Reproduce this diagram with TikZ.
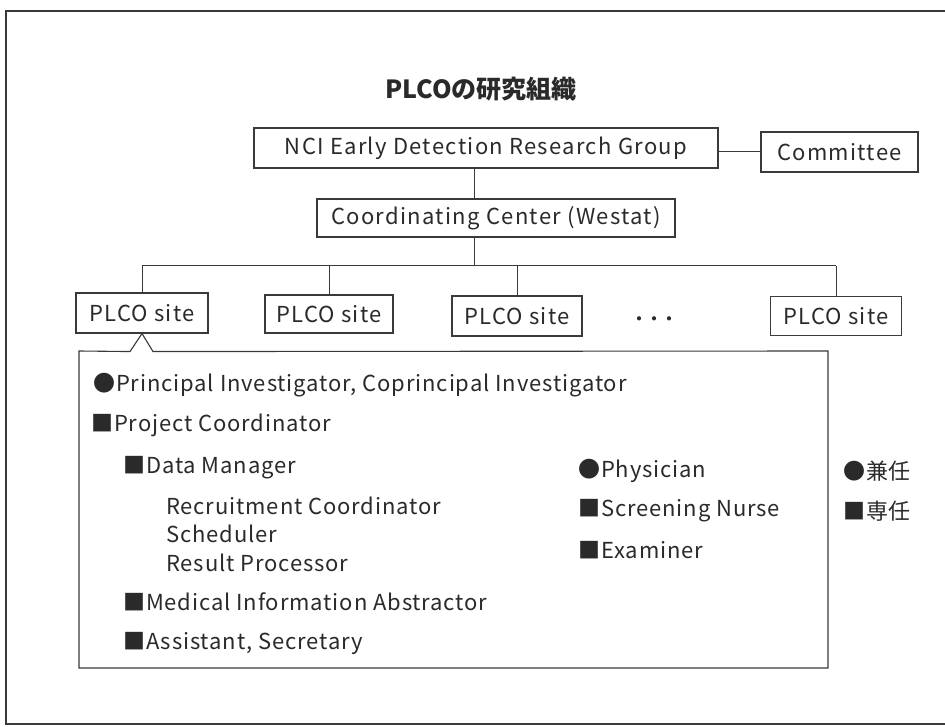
\documentclass[tikz,border=0pt]{standalone}
\usepackage{fontspec}
\setmainfont{Noto Sans CJK JP}
\newfontfamily\boxfont[LetterSpace=6]{Noto Sans CJK JP}
\newfontfamily\itemfont[LetterSpace=4]{Noto Sans CJK JP}
\usetikzlibrary{calc}
\definecolor{txt}{HTML}{2A2A2A}
\definecolor{linec}{HTML}{3A3A3A}
\begin{document}
\begin{tikzpicture}[x=1pt,y=-1pt,
  box/.style={draw=linec, line width=1.1pt, inner sep=0pt, font=\boxfont\fontsize{22}{26}\selectfont, text=txt},
  conn/.style={draw=linec, line width=1pt},
  item/.style={anchor=west, inner sep=0pt, font=\itemfont\fontsize{22}{26}\selectfont, text=txt},
  frame/.style={draw=linec, line width=2pt}]
\useasboundingbox (0,0) rectangle (945,727);
\fill[white] (0,0) rectangle (945,727);
% outer frame (right side beyond the picture)
\draw[frame] (945,11) -- (6,11) -- (6,724) -- (945,724);
% title
\node[inner sep=0pt, font=\fontsize{25}{29}\selectfont\bfseries, text=txt] (title) at (481,89) {PLCOの研究組織};
% boxes
\node[box, minimum width=464, minimum height=40] (nci) at (486,148) {NCI Early Detection Research Group};
\node[box, minimum width=157, minimum height=40] (com) at (839.5,152) {Committee};
\node[box, minimum width=358, minimum height=38] (cc) at (496,218) {Coordinating Center (Westat)};
\node[box, minimum width=132, minimum height=40] (s1) at (142,313) {PLCO site};
\node[box, minimum width=128, minimum height=38] (s2) at (329,314) {PLCO site};
\node[box, minimum width=130, minimum height=40] (s3) at (517,316) {PLCO site};
\node[inner sep=0pt, font=\fontsize{15}{18}\selectfont\bfseries, text=txt] (dots) at (654,321) {・・・};
\node[box, minimum width=131, minimum height=39] (s5) at (836,316) {PLCO site};
% connectors
\coordinate (b1) at (474,0);
\coordinate (bus) at (0,266);
\draw[conn] (com.west) -- (com.west -| nci.east);
\draw[conn] (nci.south -| b1) -- (cc.north -| b1);
\draw[conn] (cc.south -| b1) -- (b1 |- bus);
\draw[conn] (s1.north |- bus) -- (s5.north |- bus);
\foreach \s in {s1,s2,s3,s5} \draw[conn] (\s.north) -- (\s.north |- bus);
% call-out box
\coordinate (cl) at ($(s1.south)+(-12,18)$);
\coordinate (cr) at ($(s1.south)+(11,18)$);
\coordinate (tl) at (79,351);
\coordinate (tr) at (828,351);
\coordinate (bl) at (79,668);
\coordinate (br) at (828,668);
\draw[conn, line width=1.1pt, line join=miter] (cl) -- (s1.south) -- (cr) -- (tr) -- (br) -- (bl) -- (tl) -- cycle;
% list
\node[item] (i1) at (93,385) {●Principal Investigator, Coprincipal Investigator};
\node[item] (i2) at (91,425) {■Project Coordinator};
\node[item] (i3) at (123,468) {■Data Manager};
\node[item] (i4) at (166,506) {Recruitment Coordinator};
\node[item] (i5) at (166,534) {Scheduler};
\node[item] (i6) at (166,563) {Result Processor};
\node[item] (i7) at (123,602) {■Medical Information Abstractor};
\node[item] (i8) at (123,643) {■Assistant, Secretary};
\node[item] (p1) at (578,471) {●Physician};
\node[item] (p2) at (578,511) {■Screening Nurse};
\node[item] (p3) at (578,550) {■Examiner};
% legend
\node[item] (l1) at (843,471) {●兼任};
\node[item] (l2) at (843,511) {■専任};
\end{tikzpicture}
\end{document}
